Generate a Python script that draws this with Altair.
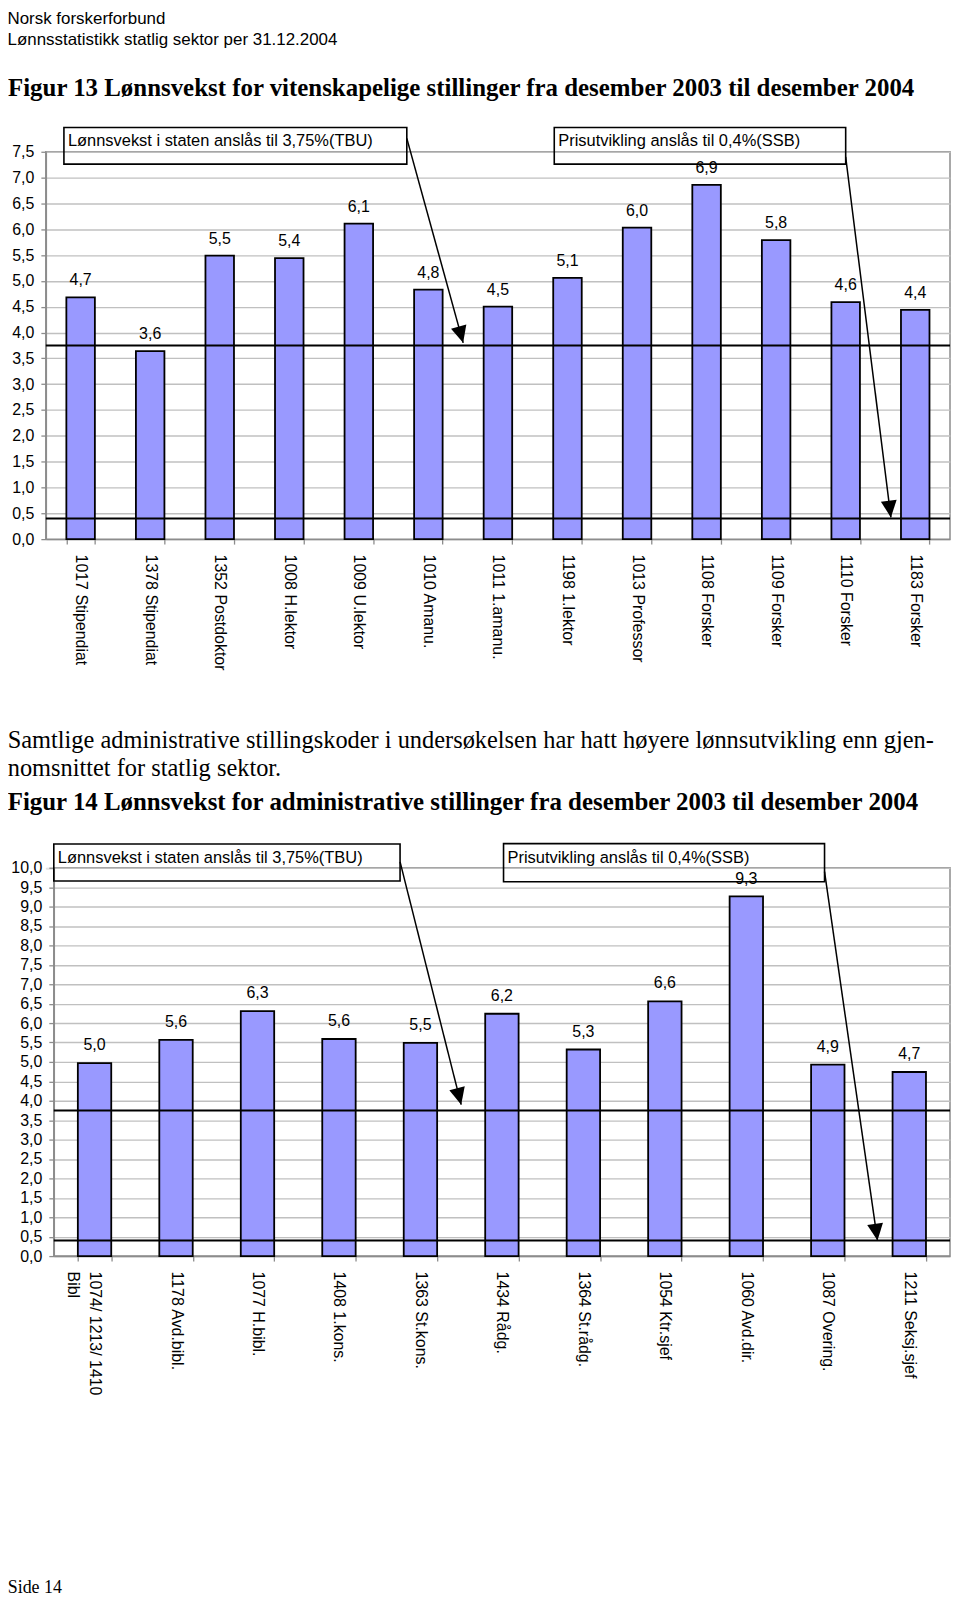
import math
import altair as alt
import pandas as pd

# ---------------- data ----------------
cats1 = ["1017 Stipendiat", "1378 Stipendiat", "1352 Postdoktor", "1008 H.lektor",
         "1009 U.lektor", "1010 Amanu.", "1011 1.amanu.", "1198 1.lektor",
         "1013 Professor", "1108 Forsker", "1109 Forsker", "1110 Forsker", "1183 Forsker"]
vals1 = [4.68, 3.64, 5.49, 5.44, 6.11, 4.83, 4.50, 5.06, 6.03, 6.86, 5.79, 4.59, 4.44]

cats2 = ["1074/ 1213/ 1410\nBibl", "1178 Avd.bibl.", "1077 H.bibl.", "1408 1.kons.",
         "1363 St.kons.", "1434 Rådg.", "1364 St.rådg.", "1054 Ktr.sjef",
         "1060 Avd.dir.", "1087 Overing.", "1211 Seksj.sjef"]
vals2 = [4.97, 5.57, 6.31, 5.59, 5.49, 6.24, 5.32, 6.56, 9.26, 4.93, 4.74]

ref_lines = [3.75, 0.4]
box_texts = ["Lønnsvekst i staten anslås til 3,75%(TBU)", "Prisutvikling anslås til 0,4%(SSB)"]

# annotation geometry in data units (x: category steps from left edge, y: percent)
boxes1 = {"x": [0.26, 7.31], "x2": [5.19, 11.50], "y": [7.26, 7.26], "y2": [7.97, 7.97]}
arrows1 = {"x": [5.19, 11.50], "y": [7.76, 7.40], "x2": [6.0, 12.15], "y2": [3.80, 0.42]}
boxes2 = {"x": [0.0, 5.52], "x2": [4.25, 9.46], "y": [9.66, 9.64], "y2": [10.61, 10.62]}
arrows2 = {"x": [4.25, 9.46], "y": [10.15, 9.90], "x2": [5.0, 10.11], "y2": [3.90, 0.40]}

header1 = "Norsk forskerforbund"
header2 = "Lønnsstatistikk statlig sektor per 31.12.2004"
title13 = "Figur 13 Lønnsvekst for vitenskapelige stillinger fra desember 2003 til desember 2004"
para1 = "Samtlige administrative stillingskoder i undersøkelsen har hatt høyere lønnsutvikling enn gjen-"
para2 = "nomsnittet for statlig sektor."
title14 = "Figur 14 Lønnsvekst for administrative stillinger fra desember 2003 til desember 2004"
footer = "Side 14"

SANS = "Liberation Sans"
SERIF = "Liberation Serif"
ARROW = "M0,0L-0.47,-1L0.47,-1Z"


def text_layer(s, x, y, font, size, weight="normal", baseline="alphabetic"):
    return alt.Chart(pd.DataFrame({"t": [s]})).mark_text(
        align="left", baseline=baseline, font=font, fontSize=size,
        fontWeight=weight, color="black"
    ).encode(text="t:N", x=alt.value(x), y=alt.value(y))


def make_chart(cats, vals, ymax, width, height, boxes, arrows, extra, label_dy, multiline=False):
    n = len(cats)
    step = width / n
    ppu = height / ymax
    yscale = alt.Scale(domain=[0, ymax], nice=False, zero=True)
    ticks = [i * 0.5 for i in range(int(ymax * 2) + 1)]

    df = pd.DataFrame({"cat": cats, "v": vals})
    xax = alt.Axis(
        title=None, labelAngle=90, labelAlign="left", labelBaseline="middle",
        labelFont=SANS, labelFontSize=16, labelColor="black", labelLimit=400,
        labelPadding=10, labelLineHeight=22, tickBand="extent", tickSize=5,
        tickColor="#8c8c8c", tickWidth=1.3, domainColor="#8c8c8c", domainWidth=1.5,
        grid=False,
        **({"labelExpr": "split(datum.label, '\\n')"} if multiline else {})
    )
    yax = alt.Axis(
        title=None, values=ticks,
        labelExpr="replace(format(datum.value, '.1f'), '.', ',')",
        labelFont=SANS, labelFontSize=16, labelColor="black", labelPadding=7,
        tickSize=5, tickColor="#8c8c8c", tickWidth=1.3,
        domainColor="#8c8c8c", domainWidth=1.5,
        grid=True, gridColor="#c0c0c0", gridWidth=1.4,
    )
    xenc = alt.X("cat:N", sort=cats, axis=xax,
                 scale=alt.Scale(paddingInner=0.59, paddingOuter=0.295))

    bars = alt.Chart(df).mark_bar(color="#9999ff", stroke="black", strokeWidth=1.8).encode(
        x=xenc, y=alt.Y("v:Q", scale=yscale, axis=yax)
    )
    labels = alt.Chart(df).transform_calculate(
        lbl="replace(format(datum.v, '.1f'), '.', ',')"
    ).mark_text(baseline="alphabetic", dy=label_dy, font=SANS, fontSize=16, color="black").encode(
        x=xenc, y=alt.Y("v:Q", scale=yscale, axis=yax), text="lbl:N"
    )
    hl = alt.Chart(pd.DataFrame({"r": ref_lines})).mark_rule(color="black", strokeWidth=2).encode(
        y=alt.Y("r:Q", scale=yscale, axis=yax)
    )
    base = alt.layer(bars, hl, labels)

    ax_scale = alt.Scale(domain=[0, n], nice=False, zero=False)
    bdf = pd.DataFrame(dict(boxes, txt=box_texts))
    rects = alt.Chart(bdf).mark_rect(fill="transparent", stroke="black", strokeWidth=1.6).encode(
        x=alt.X("x:Q", scale=ax_scale, axis=None), x2="x2:Q",
        y=alt.Y("y:Q", scale=yscale, axis=yax), y2="y2:Q",
    )
    btxt = alt.Chart(bdf).mark_text(
        align="left", baseline="alphabetic", dx=4, dy=19, font=SANS, fontSize=16.5, color="black"
    ).encode(
        x=alt.X("x:Q", scale=ax_scale, axis=None),
        y=alt.Y("y2:Q", scale=yscale, axis=yax), text="txt:N",
    )
    adf = pd.DataFrame(arrows)
    adf["ang"] = [
        (360 - math.degrees(math.atan2((x2 - x1) * step, (y1 - y2) * ppu))) % 360
        for x1, y1, x2, y2 in zip(adf["x"], adf["y"], adf["x2"], adf["y2"])
    ]
    lines = alt.Chart(adf).mark_rule(color="black", strokeWidth=1.5).encode(
        x=alt.X("x:Q", scale=ax_scale, axis=None), x2="x2:Q",
        y=alt.Y("y:Q", scale=yscale, axis=yax), y2="y2:Q",
    )
    heads = alt.Chart(adf).mark_point(
        shape=ARROW, filled=True, color="black", opacity=1, size=1150, strokeWidth=0
    ).encode(
        x=alt.X("x2:Q", scale=ax_scale, axis=None),
        y=alt.Y("y2:Q", scale=yscale, axis=yax),
        angle=alt.Angle("ang:Q", scale=None),
    )
    annot = alt.layer(rects, btxt, lines, heads)

    return alt.layer(base, annot, *extra).resolve_scale(x="independent").properties(
        width=width, height=height,
        view=alt.ViewBackground(stroke="#8c8c8c", strokeWidth=1.5),
    )


# chart 1: plot area origin at reference (41, 148)
extra1 = [
    text_layer(header1, -38.5, -141.2, SANS, 17, baseline="top"),
    text_layer(header2, -38.5, -107.5, SANS, 17),
    text_layer(title13, -38.0, -56.3, SERIF, 25, "bold"),
]
chart1 = make_chart(cats1, vals1, 7.5, 908, 389, boxes1, arrows1, extra1, -12)

# chart 2: plot area origin at reference (49.3, 866)
extra2 = [
    text_layer(para1, -46.3, -120, SERIF, 24.5),
    text_layer(para2, -46.3, -92, SERIF, 24.5),
    text_layer(title14, -46.3, -58, SERIF, 25, "bold"),
    text_layer(footer, -46.3, 728, SERIF, 18),
]
chart2 = make_chart(cats2, vals2, 10.0, 900, 390, boxes2, arrows2, extra2, -13, multiline=True)

spacer = alt.Chart(pd.DataFrame({"s": [0]})).mark_point(opacity=0).encode(
    x=alt.value(0), y=alt.value(0)
).properties(width=8, height=1)

row2 = alt.hconcat(spacer, chart2, spacing=0, bounds="flush")

chart = alt.vconcat(chart1, row2, spacing=330, bounds="flush").properties(
    padding={"left": -2, "top": -2, "right": 0, "bottom": 0}
).configure_view(stroke="transparent").configure(font=SANS)

chart.save("out.html", embed_options={"renderer": "svg", "actions": False})
